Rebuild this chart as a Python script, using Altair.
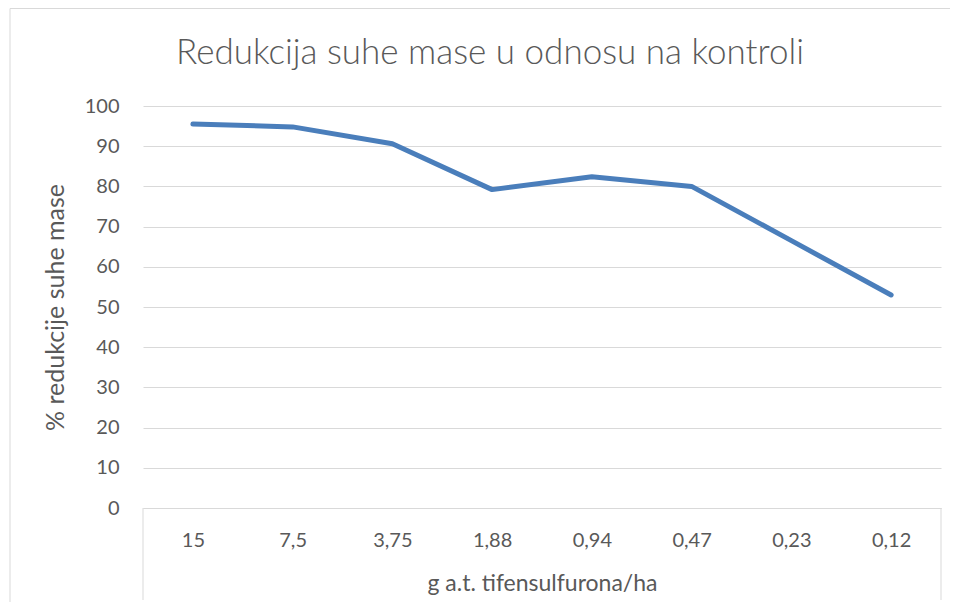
import altair as alt
import pandas as pd

categories = ["15", "7,5", "3,75", "1,88", "0,94", "0,47", "0,23", "0,12"]
values = [95.5, 94.8, 90.6, 79.2, 82.4, 80.0, 66.5, 53.0]
y_ticks = list(range(0, 101, 10))

title_text = "Redukcija suhe mase u odnosu na kontroli"
x_title = "g a.t. tifensulfurona/ha"
y_title = "% redukcije suhe mase"

df = pd.DataFrame({"doza": categories, "redukcija": values})

W, H = 798, 402
PAD_L, PAD_T = 135, 98
TOTAL_W, TOTAL_H = 942, 594
FONT = "Lato"
TXT = "#595959"
GRID = "#d9d9d9"

line = alt.Chart(df).mark_line(
    color="#4a7ebb", strokeWidth=5, strokeCap="round", strokeJoin="round"
).encode(
    x=alt.X(
        "doza:N",
        sort=categories,
        scale=alt.Scale(padding=0.5),
        axis=alt.Axis(
            title=x_title,
            labelAngle=0,
            ticks=False,
            grid=False,
            domain=True,
            domainColor=GRID,
            domainWidth=1,
            labelPadding=22,
            titlePadding=22,
            labelFontSize=20,
            titleFontSize=23,
        ),
    ),
    y=alt.Y(
        "redukcija:Q",
        scale=alt.Scale(domain=[0, 100], nice=False),
        axis=alt.Axis(
            values=y_ticks,
            title=y_title,
            grid=True,
            gridColor=GRID,
            gridWidth=1,
            domain=False,
            ticks=False,
            labelPadding=24,
            titlePadding=16,
            labelFontSize=20,
            titleFontSize=25,
        ),
    ),
)

one = alt.Data(values=[{"k": 0}])
deco_color = GRID
left_box = alt.Chart(one).mark_rule(color=deco_color, strokeWidth=1).encode(
    x=alt.value(0), y=alt.value(H), y2=alt.value(H + 92)
)
right_box = alt.Chart(one).mark_rule(color=deco_color, strokeWidth=1).encode(
    x=alt.value(W), y=alt.value(H), y2=alt.value(H + 92)
)
border_left = alt.Chart(one).mark_rule(color=deco_color, strokeWidth=1).encode(
    x=alt.value(-133), y=alt.value(-97.5), y2=alt.value(TOTAL_H - PAD_T)
)
border_top = alt.Chart(one).mark_rule(color=deco_color, strokeWidth=1).encode(
    x=alt.value(-133), x2=alt.value(TOTAL_W - PAD_L), y=alt.value(-97.5)
)
title_mark = alt.Chart(alt.Data(values=[{"t": title_text}])).mark_text(
    font=FONT, fontSize=35, fontWeight=300, color=TXT, align="center", baseline="alphabetic"
).encode(
    text="t:N", x=alt.value(347), y=alt.value(-42)
)

chart = alt.layer(border_left, border_top, left_box, right_box, title_mark, line).properties(
    width=W,
    height=H,
    autosize=alt.AutoSizeParams(type="none"),
    padding={"left": PAD_L, "top": PAD_T, "right": TOTAL_W - PAD_L - W, "bottom": TOTAL_H - PAD_T - H},
).configure_view(
    stroke="transparent"
).configure_axis(
    labelFont=FONT, titleFont=FONT, labelColor=TXT, titleColor=TXT, titleFontWeight="normal"
)

chart.save("out.html", embed_options={"renderer": "svg", "actions": False})
